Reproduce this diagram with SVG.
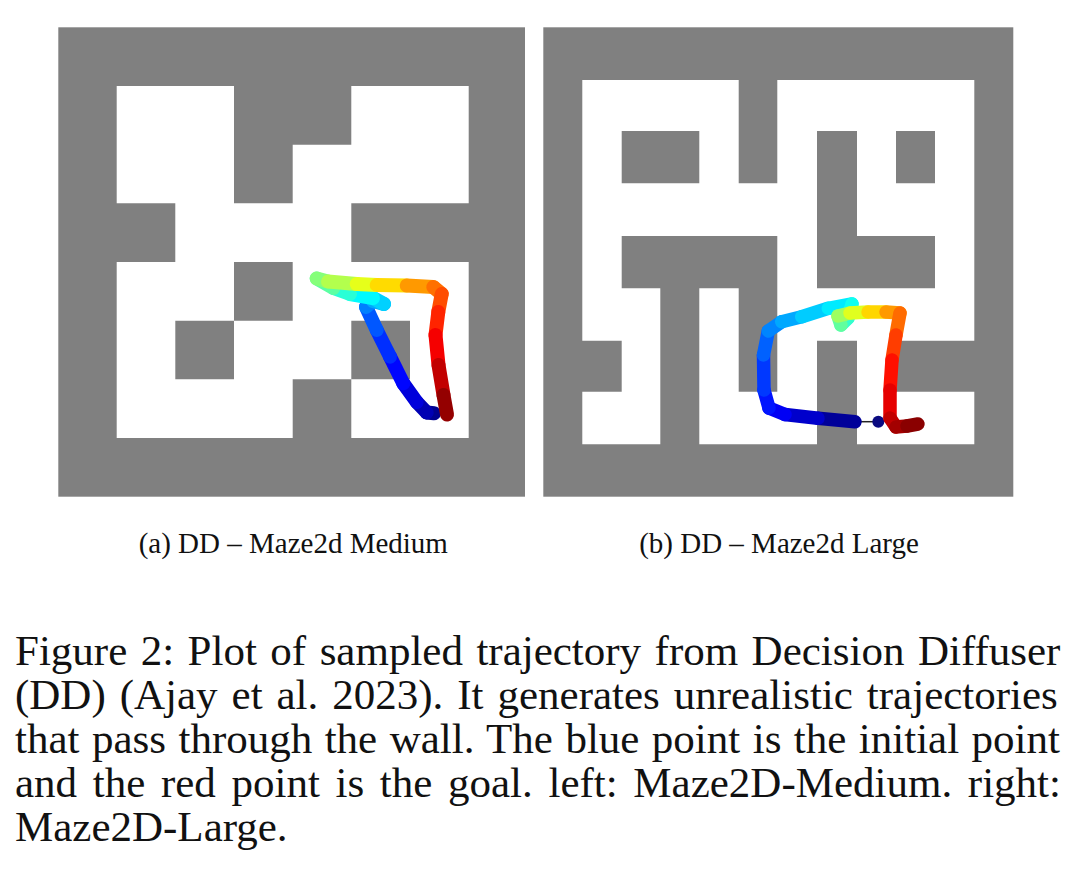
<svg xmlns="http://www.w3.org/2000/svg" width="1080" height="874" viewBox="0 0 1080 874">
<style>
.wall{fill:#808080}
.open{fill:#ffffff}
.seg{fill:none;stroke-width:14;stroke-linecap:round;stroke-linejoin:round}
.segb{fill:none;stroke-width:13.5;stroke-linecap:round;stroke-linejoin:round}
.sub{font-size:29px;fill:#111;text-anchor:middle}
.cap{font-size:43px;fill:#111}
</style>
<rect width="1080" height="874" fill="#ffffff"/>
<g id="maze-medium">
<rect class="wall" x="58.3" y="27.3" width="466.7" height="469.4"/>
<path class="open" d="M116.7 86H234V144.7H116.7Z M351.3 86H468.7V144.7H351.3Z M116.7 144.7H234V203.3H116.7Z M292.7 144.7H468.7V203.3H292.7Z M175.3 203.3H351.3V262H175.3Z M116.7 262H234V320.7H116.7Z M292.7 262H468.7V320.7H292.7Z M116.7 320.7H175.3V379.3H116.7Z M234 320.7H351.3V379.3H234Z M410 320.7H468.7V379.3H410Z M116.7 379.3H292.7V438H116.7Z M351.3 379.3H468.7V438H351.3Z"/>
</g>
<g id="maze-large">
<rect class="wall" x="543.3" y="27.3" width="470" height="469.4"/>
<path class="open" d="M582.3 80H738.7V131H582.3Z M777.3 80H974.3V131H777.3Z M582.3 131H621.7V183.3H582.3Z M699.3 131H738.7V183.3H699.3Z M777.3 131H817V183.3H777.3Z M857 131H896V183.3H857Z M935 131H974.3V183.3H935Z M582.3 183.3H817V236H582.3Z M857 183.3H974.3V236H857Z M582.3 236H621.7V288.3H582.3Z M777.3 236H817V288.3H777.3Z M935 236H974.3V288.3H935Z M582.3 288.3H660.3V340.7H582.3Z M699.3 288.3H738.7V340.7H699.3Z M777.3 288.3H974.3V340.7H777.3Z M621.7 340.7H660.3V391.7H621.7Z M699.3 340.7H738.7V391.7H699.3Z M777.3 340.7H817V391.7H777.3Z M857 340.7H896V391.7H857Z M582.3 391.7H660.3V444.3H582.3Z M699.3 391.7H817V444.3H699.3Z M857 391.7H974.3V444.3H857Z"/>
</g>
<g id="traj-medium">
<path class="seg" stroke="#00008f" d="M434 413.3L426.7 412.5"/>
<path class="seg" stroke="#0000b3" d="M426.7 412.5L416.7 402"/>
<path class="seg" stroke="#0000db" d="M416.7 402L403.3 383.3"/>
<path class="seg" stroke="#0005ff" d="M403.3 383.3L390 356.7"/>
<path class="seg" stroke="#002eff" d="M390 356.7L376.7 330"/>
<path class="seg" stroke="#0057ff" d="M376.7 330L366 307"/>
<path class="seg" stroke="#0080ff" d="M366 307L373 301"/>
<path class="seg" stroke="#00a8ff" d="M373 301L384 304"/>
<path class="seg" stroke="#00d1ff" d="M384 304L373 298"/>
<path class="seg" stroke="#00faff" d="M373 298L350 294"/>
<path class="seg" stroke="#29ffd6" d="M350 294L333.3 288"/>
<path class="seg" stroke="#5cffa3" d="M333.3 288L316.7 278.5"/>
<path class="seg" stroke="#85ff7a" d="M316.7 278.5L328 281.5"/>
<path class="seg" stroke="#b3ff4d" d="M328 281.5L356.7 284"/>
<path class="seg" stroke="#e6ff1a" d="M356.7 284L376.7 285"/>
<path class="seg" stroke="#ffdb00" d="M376.7 285L406.7 285.5"/>
<path class="seg" stroke="#ff9900" d="M406.7 285.5L433.3 287"/>
<path class="seg" stroke="#ff7000" d="M433.3 287L441.7 294"/>
<path class="seg" stroke="#ff4d00" d="M441.7 294L438.3 312"/>
<path class="seg" stroke="#ff2400" d="M438.3 312L435.5 335"/>
<path class="seg" stroke="#f50000" d="M435.5 335L438.5 365"/>
<path class="seg" stroke="#c20000" d="M438.5 365L443.5 395"/>
<path class="seg" stroke="#940000" d="M443.5 395L447 414.5"/>
</g>
<g id="traj-large">
<line x1="856" y1="421.7" x2="878.3" y2="421.7" stroke="#222222" stroke-width="1.5"/>
<circle cx="878.3" cy="421.7" r="6" fill="#0a0a80"/>
<path class="segb" stroke="#000099" d="M855 421.7L818 418.3"/>
<path class="segb" stroke="#0000cc" d="M818 418.3L785 414.5"/>
<path class="segb" stroke="#0000f5" d="M785 414.5L769 408"/>
<path class="segb" stroke="#0014ff" d="M769 408L764 390"/>
<path class="segb" stroke="#0038ff" d="M764 390L763.5 355"/>
<path class="segb" stroke="#0061ff" d="M763.5 355L768.3 331"/>
<path class="segb" stroke="#0085ff" d="M768.3 331L781.7 321.7"/>
<path class="segb" stroke="#00a8ff" d="M781.7 321.7L801.7 316.7"/>
<path class="segb" stroke="#00ccff" d="M801.7 316.7L828.3 308.3"/>
<path class="segb" stroke="#00ebff" d="M828.3 308.3L852 304"/>
<path class="segb" stroke="#0ffff0" d="M852 304L848 318"/>
<path class="segb" stroke="#33ffcc" d="M848 318L841 325"/>
<path class="segb" stroke="#61ff9e" d="M841 325L838 316"/>
<path class="segb" stroke="#9eff61" d="M838 316L850 313"/>
<path class="segb" stroke="#e0ff1f" d="M850 313L868 312"/>
<path class="segb" stroke="#ffd600" d="M868 312L886 312"/>
<path class="segb" stroke="#ff9900" d="M886 312L900 313"/>
<path class="segb" stroke="#ff6b00" d="M900 313L896 335"/>
<path class="segb" stroke="#ff3d00" d="M896 335L892 360"/>
<path class="segb" stroke="#ff0f00" d="M892 360L890 390"/>
<path class="segb" stroke="#e60000" d="M890 390L890 418"/>
<path class="segb" stroke="#c20000" d="M890 418L896 427"/>
<path class="segb" stroke="#a30000" d="M896 427L907 426"/>
<path class="segb" stroke="#8a0000" d="M907 426L918 424"/>
</g>
<g id="labels" font-family="Liberation Serif, serif">
<text class="sub" x="293.3" y="553">(a) DD – Maze2d Medium</text>
<text class="sub" x="779" y="553">(b) DD – Maze2d Large</text>
</g>
<g id="caption" font-family="Liberation Serif, serif">
<text class="cap" x="15" y="665" word-spacing="2.7">Figure 2: Plot of sampled trajectory from Decision Diffuser</text>
<text class="cap" x="15" y="709" word-spacing="3.2">(DD) (Ajay et al. 2023). It generates unrealistic trajectories</text>
<text class="cap" x="15" y="753" word-spacing="1.7">that pass through the wall. The blue point is the initial point</text>
<text class="cap" x="15" y="797" word-spacing="4.9">and the red point is the goal. left: Maze2D-Medium. right:</text>
<text class="cap" x="15" y="841">Maze2D-Large.</text>
</g>
</svg>
